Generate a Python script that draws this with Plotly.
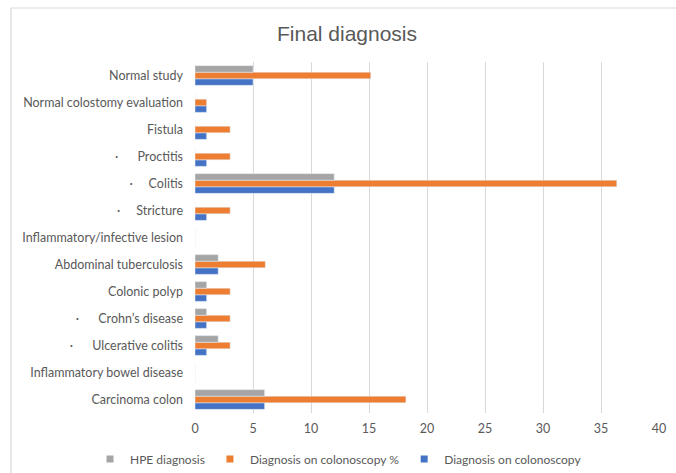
import plotly.graph_objects as go

# Categories listed bottom-to-top as they appear on the y axis
categories = [
    "Carcinoma colon",
    "Inflammatory bowel disease",
    "\u00b7\u00a0\u00a0\u00a0\u00a0\u00a0\u00a0Ulcerative colitis",
    "\u00b7\u00a0\u00a0\u00a0\u00a0\u00a0\u00a0Crohn\u2019s disease",
    "Colonic polyp",
    "Abdominal tuberculosis",
    "Inflammatory/infective lesion",
    "\u00b7\u00a0\u00a0\u00a0\u00a0\u00a0Stricture",
    "\u00b7\u00a0\u00a0\u00a0\u00a0\u00a0Colitis",
    "\u00b7\u00a0\u00a0\u00a0\u00a0\u00a0\u00a0Proctitis",
    "Fistula",
    "Normal colostomy evaluation",
    "Normal study",
]

colonoscopy_n = [6, 0, 1, 1, 1, 2, 0, 1, 12, 1, 1, 1, 5]
colonoscopy_pct = [18.18, 0, 3.03, 3.03, 3.03, 6.06, 0, 3.03, 36.36, 3.03, 3.03, 1, 15.15]
hpe_n = [6, 0, 2, 1, 1, 2, 0, 0, 12, 0, 0, 0, 5]

series_names = ["Diagnosis on colonoscopy", "Diagnosis on colonoscopy %", "HPE diagnosis"]
series_colors = ["#4472C4", "#ED7D31", "#A5A5A5"]
series_values = [colonoscopy_n, colonoscopy_pct, hpe_n]

x_ticks = [0, 5, 10, 15, 20, 25, 30, 35, 40]

W, H = 676, 473
L, R, T, B = 195, 17, 62, 60
pw, ph = W - L - R, H - T - B

label_font = dict(family="Lato, Open Sans, sans-serif", size=12.5, color="#595959")

fig = go.Figure()
for name, color, vals in zip(series_names, series_colors, series_values):
    fig.add_trace(go.Bar(name=name, y=categories, x=vals, orientation="h",
                         marker_color=color, showlegend=False))
# small square legend keys
for name, color in zip(series_names, series_colors):
    fig.add_trace(go.Scatter(name=name, x=[None], y=[None], mode="markers",
                             marker=dict(symbol="square", size=7, color=color),
                             showlegend=True))

# light frame around the chart area (top and left edges)
fx0 = (11 - L) / pw
fy1 = (H - B - 8) / ph
fig.add_shape(type="line", xref="paper", yref="paper", x0=fx0, x1=(W - L) / pw,
              y0=fy1, y1=fy1, line=dict(color="#D9D9D9", width=1.2))
fig.add_shape(type="line", xref="paper", yref="paper", x0=fx0, x1=fx0,
              y0=fy1, y1=-B / ph, line=dict(color="#D9D9D9", width=1.2))

fig.update_layout(
    width=W, height=H,
    margin=dict(l=L, r=R, t=T, b=B, autoexpand=False),
    paper_bgcolor="white", plot_bgcolor="white",
    barmode="group", bargap=0.27, bargroupgap=0,
    title=dict(text="Final diagnosis", x=347 / W, xanchor="center", y=1 - 34 / H,
               yanchor="middle",
               font=dict(family="Liberation Sans, Arial, sans-serif", size=21, color="#595959")),
    xaxis=dict(range=[0, 40], tickvals=x_ticks, showgrid=True, gridcolor="#D9D9D9",
               gridwidth=1, zeroline=False, showline=False, tickfont=label_font,
               ticks="", ticklabelstandoff=6, automargin=False),
    yaxis=dict(showgrid=False, zeroline=False, showline=False, tickfont=label_font,
               ticks="", ticklabelstandoff=11, categoryorder="array",
               categoryarray=categories, automargin=False),
    legend=dict(orientation="h", x=(90 - L) / pw, xanchor="left",
                y=-(459 - (H - B)) / ph, yanchor="middle",
                traceorder="reversed", itemwidth=30,
                font=dict(family="Lato, Open Sans, sans-serif", size=12, color="#595959")),
    showlegend=True,
)

fig.write_html("out.html")
